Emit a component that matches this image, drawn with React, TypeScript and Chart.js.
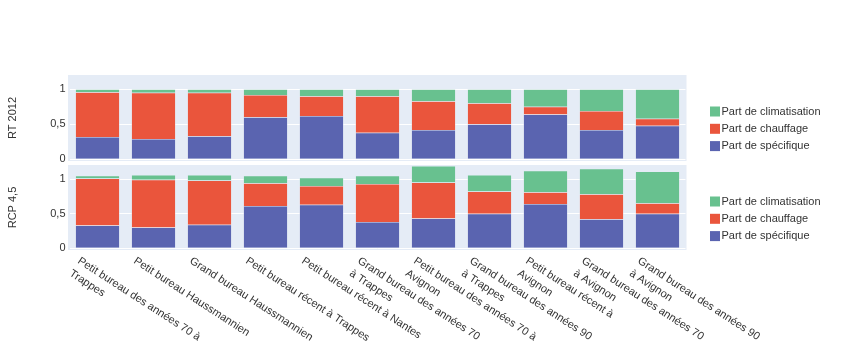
import React, { useEffect, useRef } from 'react';
import { Chart, registerables } from 'chart.js';

Chart.register(...registerables);

// ---------- DATA ----------
const categories: string[][] = [
  ['Petit bureau des années 70 à', 'Trappes'],
  ['Petit bureau Haussmannien'],
  ['Grand bureau Haussmannien'],
  ['Petit bureau récent à Trappes'],
  ['Petit bureau récent à Nantes'],
  ['Grand bureau des années 70', 'à Trappes'],
  ['Petit bureau des années 70 à', 'Avignon'],
  ['Grand bureau des années 90', 'à Trappes'],
  ['Petit bureau récent à', 'Avignon'],
  ['Grand bureau des années 70', 'à Avignon'],
  ['Grand bureau des années 90', 'à Avignon'],
];

const seriesNames = ['Part de spécifique', 'Part de chauffage', 'Part de climatisation'];
const seriesColors = ['#5a64b0', '#ea553c', '#68c18f'];

// RT 2012
const rtSpecifique = [0.32, 0.29, 0.33, 0.60, 0.62, 0.38, 0.42, 0.50, 0.64, 0.42, 0.48];
const rtChauffage = [0.64, 0.66, 0.62, 0.32, 0.28, 0.52, 0.41, 0.30, 0.11, 0.27, 0.10];
const rtClimatisation = [0.04, 0.05, 0.05, 0.08, 0.10, 0.10, 0.17, 0.20, 0.25, 0.31, 0.42];

// RCP 4,5
const rcpSpecifique = [0.33, 0.30, 0.34, 0.61, 0.63, 0.38, 0.43, 0.50, 0.64, 0.42, 0.50];
const rcpChauffage = [0.68, 0.69, 0.64, 0.33, 0.27, 0.55, 0.52, 0.32, 0.17, 0.36, 0.15];
const rcpClimatisation = [0.04, 0.07, 0.08, 0.11, 0.12, 0.12, 0.24, 0.24, 0.31, 0.37, 0.46];

const yTickValues = [0, 0.5, 1];
const yTickLabels = ['0', '0,5', '1'];
const yMin = -0.025;
const yMax = 1.205;

const FONT = '"Liberation Sans", Arial, sans-serif';
const TEXT_COLOR = '#333';
const PLOT_BG = '#E5ECF6';
const LABEL_ANGLE = (33 * Math.PI) / 180;

const bgPlugin = {
  id: 'plotBg',
  beforeDraw(chart: any) {
    const { ctx, chartArea } = chart;
    ctx.save();
    ctx.fillStyle = PLOT_BG;
    ctx.fillRect(chartArea.left - 1.5, chartArea.top, chartArea.right - chartArea.left + 2.5, chartArea.bottom - chartArea.top);
    ctx.restore();
  },
};

const legendPlugin = {
  id: 'sideLegend',
  afterDraw(chart: any) {
    const { ctx, chartArea } = chart;
    const ds = chart.data.datasets.slice().reverse();
    ctx.save();
    ctx.font = `11px ${FONT}`;
    ctx.textAlign = 'left';
    ctx.textBaseline = 'middle';
    ds.forEach((d: any, i: number) => {
      const cy = chartArea.top + 36.5 + i * 17.3;
      const x0 = chartArea.right + 24.5;
      ctx.fillStyle = d.backgroundColor;
      ctx.fillRect(x0, cy - 5, 10, 10);
      ctx.fillStyle = TEXT_COLOR;
      ctx.fillText(d.label, x0 + 11.5, cy);
    });
    ctx.restore();
  },
};

const xLabelPlugin = {
  id: 'rotatedXLabels',
  afterDraw(chart: any) {
    const { ctx, chartArea } = chart;
    const xs = chart.scales.x;
    ctx.save();
    ctx.font = `11px ${FONT}`;
    ctx.fillStyle = TEXT_COLOR;
    ctx.textAlign = 'left';
    ctx.textBaseline = 'alphabetic';
    categories.forEach((lines, i) => {
      const px = xs.getPixelForValue(i);
      ctx.save();
      ctx.translate(px - 20.5, chartArea.bottom + 12.5);
      ctx.rotate(LABEL_ANGLE);
      lines.forEach((line, j) => ctx.fillText(line, 0, j * 15));
      ctx.restore();
    });
    ctx.restore();
  },
};

function makeConfig(title: string, spec: number[], chauf: number[], clim: number[], padBottom: number, withXLabels: boolean) {
  const values = [spec, chauf, clim];
  return {
    type: 'bar' as const,
    data: {
      labels: categories.map((c) => c.join(' ')),
      datasets: values.map((v, i) => ({
        label: seriesNames[i],
        data: v,
        backgroundColor: seriesColors[i],
        borderColor: PLOT_BG,
        borderWidth: 0.5,
        barPercentage: 0.79,
        categoryPercentage: 1,
      })),
    },
    options: {
      responsive: false,
      animation: false as const,
      layout: { padding: { left: 0, right: 156.5, top: 0, bottom: padBottom } },
      plugins: {
        legend: { display: false },
        tooltip: { enabled: false },
      },
      scales: {
        x: {
          display: false,
          stacked: true,
        },
        y: {
          stacked: true,
          min: yMin,
          max: yMax,
          afterFit: (s: any) => {
            s.width = 69.5;
            s.paddingTop = 0;
            s.paddingBottom = 0;
          },
          afterBuildTicks: (s: any) => { s.ticks = yTickValues.map((v) => ({ value: v })); },
          ticks: {
            padding: 4,
            color: TEXT_COLOR,
            font: { family: FONT, size: 11 },
            callback: (v: any) => {
              const idx = yTickValues.indexOf(Number(v));
              return idx >= 0 ? yTickLabels[idx] : '';
            },
          },
          grid: { color: '#ffffff', lineWidth: 1, drawTicks: false },
          border: { display: false },
          title: {
            display: true,
            text: title,
            color: TEXT_COLOR,
            font: { family: FONT, size: 11 },
            padding: { top: 6, bottom: 0 },
          },
        },
      },
    },
    plugins: withXLabels ? [bgPlugin, legendPlugin, xLabelPlugin] : [bgPlugin, legendPlugin],
  };
}

function ChartCanvas(props: { height: number; config: any }) {
  const ref = useRef<HTMLCanvasElement | null>(null);
  useEffect(() => {
    if (!ref.current) return;
    const chart = new Chart(ref.current, props.config);
    return () => chart.destroy();
  }, []);
  return (
    <canvas
      ref={ref}
      width={842}
      height={props.height}
      style={{ position: 'absolute', left: 0, top: 0, width: 842, height: props.height, display: 'block' }}
    />
  );
}

export default function App() {
  const topConfig = makeConfig('RT 2012', rtSpecifique, rtChauffage, rtClimatisation, 5, false);
  const bottomConfig = makeConfig('RCP 4,5', rcpSpecifique, rcpChauffage, rcpClimatisation, 105, true);
  return (
    <div style={{ position: 'absolute', left: 0, top: 0, width: 842, height: 355, background: '#fff', overflow: 'hidden' }}>
      <div style={{ position: 'absolute', left: 0, top: 165, width: 842, height: 190 }}>
        <ChartCanvas height={190} config={bottomConfig} />
      </div>
      <div style={{ position: 'absolute', left: 0, top: 75, width: 842, height: 91 }}>
        <ChartCanvas height={91} config={topConfig} />
      </div>
    </div>
  );
}
